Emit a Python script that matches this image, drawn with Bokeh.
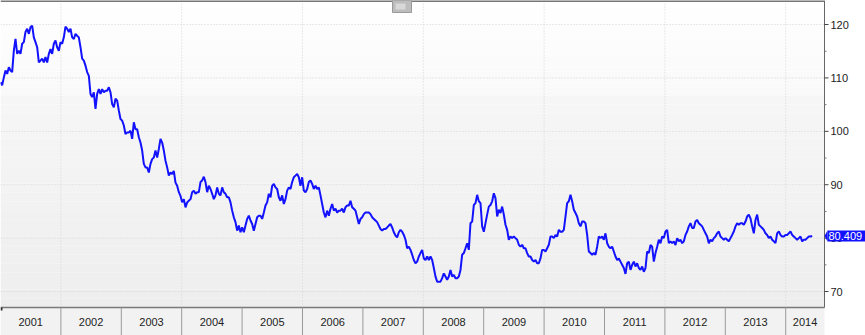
from bokeh.plotting import figure
from bokeh.models import Range1d, FixedTicker
from bokeh.core.properties import value
from bokeh.embed import file_html
from bokeh.resources import INLINE
import numpy as np

# ---- data ----
vals_2001_2004 = [109.2, 108.6, 110.1, 111.4, 110.75, 112.0, 111.4, 111.1, 115.1, 117.3,
                  114.5, 115.1, 114.5, 116.4, 116.7, 118.6, 119.2, 118.25, 119.5, 119.8,
                  117.6, 116.7, 115.75, 112.9, 113.25, 113.6, 112.9, 113.9, 112.9, 114.5,
                  115.4, 114.5, 116.4, 117.0, 115.75, 115.1, 116.7, 116.4, 117.6, 119.6,
                  119.2, 118.6, 119.2, 117.6, 117.3, 118.25, 117.9, 117.6, 115.75, 113.6,
                  113.25, 112.3, 111.1, 110.4, 107.0, 106.4, 107.3, 104.2, 107.0, 107.9,
                  107.0, 107.9, 107.3, 107.6, 107.6, 108.25, 107.3, 105.1, 104.5, 106.1,
                  105.75, 103.9, 102.3, 102.0, 101.1, 99.5, 99.8, 99.8, 100.1, 98.6,
                  101.7, 100.4, 100.4, 98.9, 97.9, 96.4, 93.9, 93.25, 93.25, 92.3,
                  93.9, 94.8, 95.1, 96.4, 95.1, 96.7, 98.6, 97.9, 96.4, 94.5,
                  93.25, 91.7, 92.3, 92.0, 92.6, 90.4, 89.8, 88.6, 87.9, 86.7,
                  87.3, 85.75, 86.7, 87.0]
vals_2004_2007 = [87.3, 88.6, 88.9, 88.3, 88.6, 88.6, 90.5, 90.8, 91.5, 90.5,
                  88.6, 89.8, 89.2, 88.3, 87.3, 88.0, 89.5, 88.3, 88.0, 89.5,
                  88.6, 88.3, 87.65, 87.65, 86.7, 85.15, 83.9, 83.0, 81.4, 82.35,
                  81.1, 82.0, 81.1, 82.35, 83.6, 84.2, 83.3, 82.65, 81.4, 82.65,
                  83.9, 84.2, 84.2, 83.6, 84.8, 86.1, 86.7, 88.3, 87.65, 89.8,
                  90.15, 89.5, 89.2, 87.65, 87.0, 88.0, 86.4, 87.3, 88.9, 89.5,
                  89.2, 90.5, 91.4, 91.7, 92.0, 91.4, 89.8, 91.4, 88.9, 88.6,
                  89.2, 90.5, 90.8, 90.15, 89.2, 89.8, 89.2, 89.5, 88.0, 86.4,
                  84.8, 83.9, 85.15, 84.2, 85.5, 86.4, 85.15, 85.5, 84.8, 85.15,
                  85.15, 85.5, 84.8, 85.8, 86.1, 86.1, 87.0, 85.8, 85.5, 85.15,
                  83.9, 82.65, 83.6, 83.9, 84.5, 84.8, 84.8, 84.8, 84.5, 83.9,
                  83.6, 83.3, 83.0, 82.35, 81.7, 81.4, 81.7, 81.7, 82.0, 82.35,
                  82.65, 82.0, 81.1, 80.5, 80.15, 81.1]
vals_2007_2010 = [81.55, 81.2, 80.6, 79.7, 78.1, 78.4, 77.8, 76.9, 75.9, 75.3,
                  75.6, 76.55, 77.2, 77.8, 76.2, 75.9, 76.55, 75.9, 76.55, 75.9,
                  74.4, 72.8, 71.85, 71.85, 71.85, 72.5, 73.4, 72.8, 72.2, 72.8,
                  74.05, 72.8, 73.1, 72.5, 72.5, 72.8, 74.05, 76.9, 77.2, 78.1,
                  79.05, 77.8, 82.8, 83.1, 86.2, 86.55, 88.1, 86.9, 86.55, 82.2,
                  81.2, 82.8, 84.4, 85.9, 86.2, 86.9, 88.4, 87.5, 84.05, 85.3,
                  84.7, 85.9, 84.4, 82.5, 81.55, 79.7, 80.3, 80.0, 80.3, 80.0,
                  79.7, 78.75, 78.4, 78.75, 78.1, 78.1, 77.2, 76.55, 76.55, 75.9,
                  75.6, 75.9, 75.3, 75.3, 76.2, 77.8, 77.8, 77.5, 78.1, 78.75,
                  80.3, 80.3, 80.0, 80.6, 80.3, 81.55, 81.2, 81.2, 81.55, 84.05,
                  86.55, 86.9, 88.1, 86.9, 85.3, 84.7, 84.05, 82.8, 82.2, 83.1,
                  83.1, 82.8, 80.6, 77.5, 77.2, 76.9, 77.2, 76.9, 78.4, 80.3]
vals_2010_2014 = [80.0, 80.3, 79.7, 80.9, 79.05, 78.4, 78.1, 78.4, 77.5, 76.55,
                  75.9, 76.2, 75.6, 75.0, 74.4, 73.3, 75.3, 75.6, 74.05, 75.0,
                  75.6, 74.7, 75.3, 74.4, 74.05, 74.7, 73.7, 74.4, 77.5, 77.2,
                  78.7, 78.4, 75.6, 77.2, 78.4, 79.7, 79.05, 80.3, 80.0, 81.25,
                  81.55, 79.05, 79.4, 79.05, 79.4, 78.7, 80.0, 79.4, 79.7, 79.05,
                  79.4, 80.6, 81.25, 82.2, 82.8, 81.9, 81.9, 83.1, 83.4, 82.8,
                  82.5, 82.2, 81.55, 80.9, 80.3, 79.05, 79.7, 79.4, 80.0, 80.3,
                  80.9, 81.25, 80.3, 80.0, 79.7, 80.0, 79.7, 79.4, 80.0, 80.6,
                  81.25, 82.2, 82.8, 82.5, 82.8, 82.8, 82.5, 83.1, 84.05, 84.4,
                  83.7, 82.2, 80.9, 83.4, 84.4, 82.5, 82.2, 81.9, 81.55, 80.9,
                  80.6, 80.0, 80.3, 79.7, 79.4, 79.05, 80.9, 81.25, 80.6, 80.3,
                  80.3, 80.6, 80.6, 80.9, 81.25, 80.6, 80.3, 80.0, 79.7, 80.0,
                  80.3, 79.4, 79.7, 79.7, 80.0, 80.3, 80.3, 80.409]
series_values = vals_2001_2004 + vals_2004_2007 + vals_2007_2010 + vals_2010_2014
first_date = 2001.0     # decimal year of first observation
last_date = 2014.438    # decimal year of last observation
year_labels = ["2001", "2002", "2003", "2004", "2005", "2006", "2007",
               "2008", "2009", "2010", "2011", "2012", "2013", "2014"]
y_ticks = [70, 80, 90, 100, 110, 120]
y_tick_labels = ["70", "80", "90", "100", "110", "120"]
y_minor = [75, 85, 95, 105, 115]
last_value = 80.409

dates = np.linspace(first_date, last_date, len(series_values))

# ---- layout ----
PX_PER_YEAR = 60.4
PX_PER_UNIT = 5.34
X0 = 2001.0
X1 = X0 + 824 / PX_PER_YEAR          # right edge of plotting area (axis line)
XW = X0 + 865 / PX_PER_YEAR          # right edge of the page
Y1 = 124.5
Y_FRAME_BOTTOM = Y1 - 307 / PX_PER_UNIT
Y0 = Y1 - 335 / PX_PER_UNIT
dx = 1 / PX_PER_YEAR                  # one pixel in x
dy = 1 / PX_PER_UNIT                  # one pixel in y

p = figure(width=865, height=335, min_border=0,
           x_range=Range1d(X0, XW), y_range=Range1d(Y0, Y1),
           x_axis_location=None, y_axis_location=None,
           output_backend="svg", toolbar_location=None)
p.outline_line_color = None
p.background_fill_color = "#ffffff"
p.border_fill_color = "#ffffff"
p.xgrid.visible = False
p.ygrid.visible = False

# background gradient (two zones)
def gradient(lo, hi, c_top, c_bot, n=24):
    edges = np.linspace(hi, lo, n + 1)
    cols = []
    for i in range(n):
        t = i / max(n - 1, 1)
        c = int(round(c_top + (c_bot - c_top) * t))
        cols.append("#%02x%02x%02x" % (c, c, c))
    p.quad(left=X0, right=X1, top=edges[:-1], bottom=edges[1:], fill_color=cols,
           line_color=None)

split = Y1 - 95 * dy
gradient(split, Y1, 0xff, 0xf9)
gradient(Y_FRAME_BOTTOM, split, 0xf6, 0xee)

# grid
years = [int(s) for s in year_labels]
even_years = [y for y in years if y % 2 == 0]
p.segment(x0=even_years, x1=even_years, y0=Y_FRAME_BOTTOM, y1=Y1,
          line_color="#d4d4d4", line_width=1, line_dash="1 2")
p.segment(x0=X0, x1=X1, y0=y_ticks, y1=y_ticks,
          line_color="#d4d4d4", line_width=1, line_dash="1 2")

# bottom axis band
p.quad(left=X0, right=X1, top=Y_FRAME_BOTTOM, bottom=Y0, fill_color="#f2f2f2",
       line_color=None)
p.segment(x0=X0, x1=X1, y0=Y_FRAME_BOTTOM, y1=Y_FRAME_BOTTOM, line_color="#7a7a7a",
          line_width=1.5)
sep = years[1:]
p.segment(x0=sep, x1=sep, y0=Y0, y1=Y_FRAME_BOTTOM, line_color="#9a9a9a", line_width=1)
p.segment(x0=X0 + dx, x1=X0 + dx, y0=Y_FRAME_BOTTOM - 3 * dy, y1=Y_FRAME_BOTTOM,
          line_color="#333333", line_width=2)
label_x = [y + 0.5 for y in years[:-1]] + [(years[-1] + X1) / 2]
label_y = [(Y0 + Y_FRAME_BOTTOM) / 2] * len(years)
p.text(x=label_x, y=label_y, text=year_labels, text_align="center",
       text_baseline="middle", text_font=value("Liberation Sans"),
       text_font_size="11px", text_color="#222222")

# top border and small toolbar icon
p.segment(x0=X0, x1=X1, y0=Y1 - 0.5 * dy, y1=Y1 - 0.5 * dy, line_color="#777777",
          line_width=2)
p.quad(left=X0 + 392 * dx, right=X0 + 411 * dx, top=Y1, bottom=Y1 - 12 * dy,
       fill_color="#bdbdbd", line_color="#9a9a9a")
p.quad(left=X0 + 395 * dx, right=X0 + 405 * dx, top=Y1 - 3 * dy, bottom=Y1 - 9 * dy,
       fill_color="#d8d8d8", line_color=None)

# series
p.line(dates, series_values, line_color="#1212ff", line_width=2)

# right value axis
p.segment(x0=X1, x1=X1, y0=Y_FRAME_BOTTOM, y1=Y1, line_color="#666666", line_width=1)
p.segment(x0=X1, x1=X1 + 4 * dx, y0=y_ticks, y1=y_ticks, line_color="#444444",
          line_width=1)
p.segment(x0=X1, x1=X1 + 2 * dx, y0=y_minor, y1=y_minor, line_color="#777777",
          line_width=1)
p.text(x=[X1 + 6 * dx] * len(y_ticks), y=y_ticks, text=y_tick_labels,
       text_align="left", text_baseline="middle", text_font=value("Liberation Sans"),
       text_font_size="11px", text_color="#222222")

# last value tag
tag_h = 5.5 * dy
p.quad(left=X1 + 3 * dx, right=XW, top=last_value + tag_h, bottom=last_value - tag_h,
       fill_color="#1212ff", line_color=None)
p.patch(x=[X1, X1 + 3 * dx, X1 + 3 * dx], y=[last_value, last_value + tag_h,
        last_value - tag_h], fill_color="#1212ff", line_color=None)
p.text(x=[X1 + 4 * dx], y=[last_value], text=["%.3f" % last_value], text_align="left",
       text_baseline="middle", text_font=value("Liberation Sans"),
       text_font_size="11px", text_color="#ffffff")

open("out.html", "w").write(file_html(p, INLINE))
